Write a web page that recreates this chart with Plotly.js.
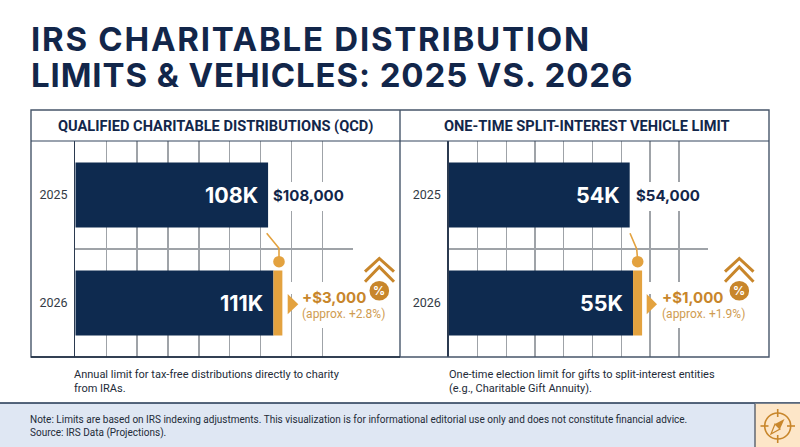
<!DOCTYPE html>
<html><head><meta charset="utf-8">
<script src="https://cdn.plot.ly/plotly-3.0.1.min.js"></script>
<style>html,body{margin:0;padding:0;background:#fff}#c{width:800px;height:447px}
.gtitle{letter-spacing:1.75px}
.annotation[data-index="0"] text{letter-spacing:.9px}
</style>
</head><body><div id="c"></div>
<script>
const years = ['2025','2026'];
const qcdLimits = [108000,111000];
const qcdLabels = ['108K','111K'];
const splitLimits = [54000,55000];
const splitLabels = ['54K','55K'];
const qcdValueText = '$108,000';
const splitValueText = '$54,000';
const qcdChange = '+$3,000';
const qcdChangePct = '(approx. +2.8%)';
const splitChange = '+$1,000';
const splitChangePct = '(approx. +1.9%)';

const W=800,H=447;
const NAVY='#0e2a4f',GOLD='#e3a23f',DGOLD='#c8862b',INK='#12264a',GRID='#9fa3a8',EDGE='#47566a';
const HEAD='Inter, "Noto Sans", sans-serif', BODY='Roboto, sans-serif';
const px=x=>x/W, py=y=>1-y/H;
const P=(pts,close)=>'M'+pts.map(p=>px(p[0]).toFixed(5)+','+py(p[1]).toFixed(5)).join(' L')+(close?' Z':'');
const rect=(x0,y0,x1,y1,fill,line,lw,layer)=>({type:'rect',xref:'paper',yref:'paper',x0:px(x0),x1:px(x1),y0:py(y0),y1:py(y1),fillcolor:fill||'rgba(0,0,0,0)',line:{color:line||'rgba(0,0,0,0)',width:line?(lw||1):0},layer:layer||'above'});
const circ=(cx,cy,r,fill,line,lw)=>({type:'circle',xref:'paper',yref:'paper',x0:px(cx-r),x1:px(cx+r),y0:py(cy-r),y1:py(cy+r),fillcolor:fill||'rgba(0,0,0,0)',line:{color:line||'rgba(0,0,0,0)',width:line?lw:0},layer:'above'});
const path=(pts,color,lw,fill,close)=>({type:'path',xref:'paper',yref:'paper',path:P(pts,close),line:{color:color||'rgba(0,0,0,0)',width:color?lw:0},fillcolor:fill||'rgba(0,0,0,0)',layer:'above'});
const line=(x0,y0,x1,y1,c,lw)=>path([[x0,y0],[x1,y1]],c,lw);
const txt=(text,x,y,size,color,family,extra)=>Object.assign({text,xref:'paper',yref:'paper',x:px(x),y:py(y),xanchor:'left',yanchor:'middle',showarrow:false,align:'left',borderpad:0,font:{size,color,family}},extra||{});

const qcdMax=155742, splitMax=77270;
const goldQ=5000, goldS=2700;
function barTrace(xs,xa,ya,name){return {type:'bar',orientation:'h',y:years,x:xs,xaxis:xa,yaxis:ya,name,width:0.6,marker:{color:NAVY,line:{width:0}},hoverinfo:'x+y',showlegend:false};}
function goldTrace(v,w,xa,ya){return {type:'bar',orientation:'h',y:[years[1]],x:[w],base:[v],xaxis:xa,yaxis:ya,width:0.6,marker:{color:GOLD,line:{width:0}},hoverinfo:'skip',showlegend:false};}
const data=[
 barTrace(qcdLimits,'x','y','QCD'),goldTrace(qcdLimits[1],goldQ,'x','y'),
 barTrace(splitLimits,'x2','y2','Split-interest'),goldTrace(splitLimits[1],goldS,'x2','y2')
];
const xa=(a,b,max,anchor)=>({domain:[px(a),px(b)],anchor,range:[0,max+1],dtick:max/9,tick0:0,showticklabels:false,ticks:'',showgrid:true,gridcolor:GRID,gridwidth:1.3,zeroline:false,showline:false,fixedrange:true});
const ya=(anchor)=>({type:'category',categoryorder:'array',categoryarray:years,range:[1.5,-0.5],autorange:false,domain:[1-357/H,1-141/H],anchor,tickson:'boundaries',ticks:'',ticklen:0,showgrid:true,gridcolor:GRID,gridwidth:1.3,showline:true,linecolor:'#2b3a50',linewidth:1.3,zeroline:false,tickfont:{family:BODY,size:12.5,color:'#333a45'},fixedrange:true,ticklabelstandoff:4});

const shapes=[
 // white patches behind value labels
 rect(270,182,348,211,'#fff'), rect(296,282,392,328,'#fff'), rect(286,282,296,294,'#fff'),
 rect(633,182,704,211,'#fff'), rect(655,282,752,328,'#fff'), rect(644,282,655,294,'#fff'),
 // panels
 rect(31,110,769,357,null,EDGE,1.4), line(400,110,400,357,EDGE,1.4), line(31,141,769,141,'#34475f',1.2),
 line(31,357,400,357,'#1d2b3f',1.5),
 // footer
 rect(0,403,800,447,'#dfe7f3',null,0,'below'), line(0,403,800,403,'#1f3550',1.5),
 rect(755,403.7,800,447,'#fde6c8',null,0), line(755,404,755,447,'#565f6b',1.4),
 // QCD callout
 path([[266.7,233.3],[279,248.3],[279,261]],GOLD,1.6), circ(279,261.7,5.8,GOLD),
 path([[287.7,294],[298.3,304.3],[287.7,314.3]],null,0,GOLD,true),
 path([[365,271.7],[379.3,258.5],[394,271.7]],DGOLD,3), path([[365,281.7],[379.3,267],[394,281.7]],DGOLD,3),
 circ(379.3,290.7,9.8,DGOLD),
 // split callout
 path([[630,233.3],[636.7,249],[637.7,261]],GOLD,1.6), circ(637.7,261.7,5.8,GOLD),
 path([[646.7,294],[657,304.3],[646.7,314.3]],null,0,GOLD,true),
 path([[725,271.7],[739.3,258.5],[753.5,271.7]],DGOLD,3), path([[725,281.7],[739.3,267],[753.5,281.7]],DGOLD,3),
 circ(739.3,290.7,9.8,DGOLD),
 // compass
 circ(777.7,426,13,null,DGOLD,1.6),
 line(777.7,409,777.7,417,DGOLD,1.6), line(777.7,435,777.7,443,DGOLD,1.6),
 line(760.5,426,768.5,426,DGOLD,1.6), line(787,426,795,426,DGOLD,1.6),
 path([[784.5,419],[780,429],[775,424]],null,0,DGOLD,true),
 path([[771,434],[780,429],[775,424]],DGOLD,1.2,null,true)
];
const annotations=[
 txt('LIMITS &amp; VEHICLES: 2025 VS. 2026',30,75,33,INK,HEAD,{font:{size:33,color:INK,family:HEAD,weight:700}}),
 txt('QUALIFIED CHARITABLE DISTRIBUTIONS (QCD)',215.6,126,14.6,INK,BODY,{xanchor:'center',font:{size:14.6,color:INK,family:BODY,weight:700}}),
 txt('ONE-TIME SPLIT-INTEREST VEHICLE LIMIT',587,126,14.6,INK,BODY,{xanchor:'center',font:{size:14.6,color:INK,family:BODY,weight:700}}),
 txt('Annual limit for tax-free distributions directly to charity<br>from IRAs.',73,381,11,'#232b38',BODY),
 txt('One-time election limit for gifts to split-interest entities<br>(e.g., Charitable Gift Annuity).',448,381,11,'#232b38',BODY),
 txt('Note: Limits are based on IRS indexing adjustments. This visualization is for informational editorial use only and does not constitute financial advice.<br>Source: IRS Data (Projections).',29,426,10,'#232b38',BODY),
 txt('%',379.3,290.7,12,'#fff',HEAD,{xanchor:'center',font:{size:12,color:'#fff',family:HEAD,weight:700}}),
 txt('%',739.3,290.7,12,'#fff',HEAD,{xanchor:'center',font:{size:12,color:'#fff',family:HEAD,weight:700}}),
 txt(qcdChange,301,297,15,DGOLD,HEAD,{font:{size:15,color:DGOLD,family:HEAD,weight:700}}),
 txt(qcdChangePct,301,314,12,'#cf9c52',BODY),
 txt(splitChange,661,297,15,DGOLD,HEAD,{font:{size:15,color:DGOLD,family:HEAD,weight:700}}),
 txt(splitChangePct,661,314,12,'#cf9c52',BODY)
];
function inner(arr,labels,xr,yr){return arr.map((v,i)=>({text:labels[i],xref:xr,yref:yr,x:v,y:i,xanchor:'right',yanchor:'middle',xshift:-9,showarrow:false,borderpad:0,font:{size:21.5,color:'#fff',family:HEAD,weight:700}}));}
annotations.push(...inner(qcdLimits,qcdLabels,'x','y'),...inner(splitLimits,splitLabels,'x2','y2'));
annotations.push({text:qcdValueText,xref:'x',yref:'y',x:qcdLimits[0],y:0,xanchor:'left',yanchor:'middle',xshift:4,showarrow:false,borderpad:0,font:{size:15,color:INK,family:HEAD,weight:700}});
annotations.push({text:splitValueText,xref:'x2',yref:'y2',x:splitLimits[0],y:0,xanchor:'left',yanchor:'middle',xshift:5,showarrow:false,borderpad:0,font:{size:15,color:INK,family:HEAD,weight:700}});

const layout={width:W,height:H,margin:{l:0,r:0,t:0,b:0,pad:0},paper_bgcolor:'#fff',plot_bgcolor:'rgba(0,0,0,0)',showlegend:false,barmode:'overlay',
 title:{text:'IRS CHARITABLE DISTRIBUTION',x:px(31),xref:'paper',xanchor:'left',y:py(39),yref:'paper',yanchor:'middle',pad:{t:0,b:0,l:0,r:0},font:{size:33,color:INK,family:HEAD,weight:700}},
 xaxis:xa(75.3,353.3,qcdMax,'y'),yaxis:ya('x'),
 xaxis2:xa(448.7,707.7,splitMax,'y2'),yaxis2:ya('x2'),
 shapes,annotations};
Plotly.newPlot('c',data,layout,{displayModeBar:false,staticPlot:true});
</script></body></html>
